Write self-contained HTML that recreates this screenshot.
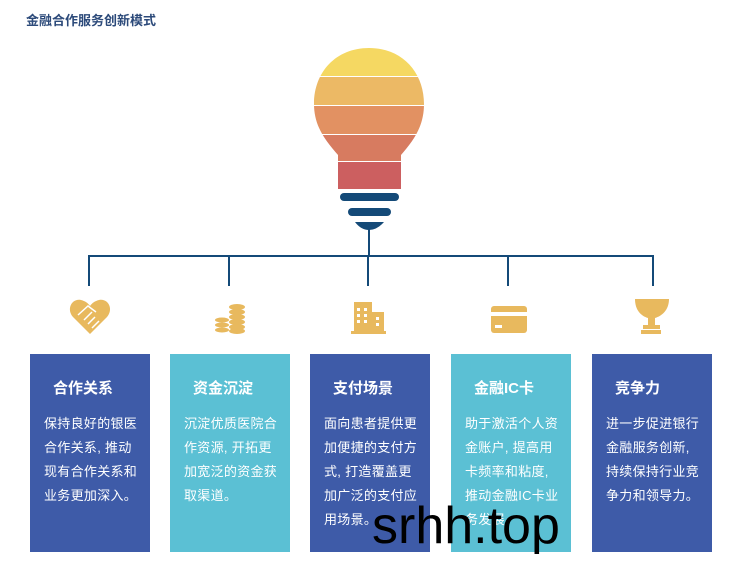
<!DOCTYPE html>
<html><head><meta charset="utf-8"><style>
body{margin:0;width:743px;height:574px;background:#fff;position:relative;overflow:hidden;font-family:"Liberation Sans","Noto Sans CJK SC",sans-serif}
.t{position:absolute;left:26px;top:10px;font-size:13px;font-weight:bold;color:#2c4a7a}
.c{position:absolute;top:354px;width:120px;height:198px;color:#fff}
.c h3{margin:0;position:absolute;left:23px;top:23px;font-size:15px;font-weight:bold}
.c p{margin:0;position:absolute;left:14px;top:58px;width:110px;font-size:13px;letter-spacing:0.3px;line-height:24px;white-space:nowrap}
.b{background:#3e5ba8}.l{background:#5bc0d4}
.w{position:absolute;left:372px;top:496px;font-size:52px;color:#000;font-family:"Liberation Sans",sans-serif}
</style></head><body>
<div class="t">金融合作服务创新模式</div>
<svg width="743" height="574" style="position:absolute;left:0;top:0">
<defs><clipPath id="bulb"><path d="M369 48 C402 48 424 72 424 104 C424 126 414 140 401 155 L401 189 L338 189 L338 155 C325 140 314 126 314 104 C314 72 336 48 369 48Z"/></clipPath></defs>
<g clip-path="url(#bulb)">
<rect x="300" y="40" width="140" height="36" fill="#f5d862"/>
<rect x="300" y="77" width="140" height="28" fill="#ecb965"/>
<rect x="300" y="106" width="140" height="28" fill="#e29162"/>
<rect x="300" y="135" width="140" height="26" fill="#d77b60"/>
<rect x="300" y="162" width="140" height="30" fill="#cc5f60"/>
</g>
<rect x="340" y="193" width="59" height="8" rx="4" fill="#144a78"/>
<rect x="348" y="208" width="43" height="8" rx="4" fill="#144a78"/>
<path d="M355 222 L384 222 Q377 230 369 230 Q361 230 355 222Z" fill="#144a78"/>
<g stroke="#144a78" stroke-width="2" fill="none">
<path d="M369 228 V256 M89 286 V256 H653 V286 M229 256 V286 M368 256 V286 M508 256 V286"/>
</g>
<g fill="#e8b95e">
<path d="M90 334 L73 317 C66 309 72 298 81 300 C85 301 88 303 90 306 C92 303 95 301 99 300 C108 298 114 309 107 317Z"/>
<ellipse cx="222" cy="320" rx="7" ry="2.5"/><ellipse cx="222" cy="325" rx="7" ry="2.5"/><ellipse cx="222" cy="330" rx="7" ry="2.5"/>
<ellipse cx="237" cy="307" rx="8" ry="3"/><ellipse cx="237" cy="312" rx="8" ry="3"/><ellipse cx="237" cy="317" rx="8" ry="3"/><ellipse cx="237" cy="322" rx="8" ry="3"/><ellipse cx="237" cy="327" rx="8" ry="3"/><ellipse cx="237" cy="331" rx="8" ry="3"/>
<rect x="354" y="302" width="18" height="31"/><rect x="372" y="312" width="12" height="21"/><rect x="351" y="331" width="35" height="3"/>
<rect x="491" y="306" width="36" height="27" rx="3"/>
<path d="M635 299 H669 C669 310 662 316 655 318 V325 H660 V329 H643 V325 H648 V318 C641 316 635 310 635 299Z"/><rect x="641" y="330" width="20" height="4"/>
</g>
<g stroke="#fff" stroke-width="1.5" fill="none"><path d="M78 315 L88 306 L96 312 M84 320 L92 312 M88 324 L95 317 M92 328 L99 321"/></g>
<rect x="491" y="312" width="36" height="4" fill="#fff"/><rect x="495" y="325" width="7" height="3" fill="#fff"/>
<g fill="#fff"><rect x="357" y="308" width="3" height="3"/><rect x="364" y="308" width="3" height="3"/><rect x="357" y="314" width="3" height="3"/><rect x="364" y="314" width="3" height="3"/><rect x="357" y="320" width="3" height="3"/><rect x="364" y="320" width="3" height="3"/><rect x="376" y="317" width="3" height="3"/><rect x="376" y="323" width="3" height="3"/></g>
</svg>
<div class="c b" style="left:30px"><h3>合作关系</h3><p>保持良好的银医<br>合作关系, 推动<br>现有合作关系和<br>业务更加深入。</p></div>
<div class="c l" style="left:170px"><h3>资金沉淀</h3><p>沉淀优质医院合<br>作资源, 开拓更<br>加宽泛的资金获<br>取渠道。</p></div>
<div class="c b" style="left:310px"><h3>支付场景</h3><p>面向患者提供更<br>加便捷的支付方<br>式, 打造覆盖更<br>加广泛的支付应<br>用场景。</p></div>
<div class="c l" style="left:451px"><h3>金融IC卡</h3><p>助于激活个人资<br>金账户, 提高用<br>卡频率和粘度,<br>推动金融IC卡业<br>务发展。</p></div>
<div class="c b" style="left:592px"><h3>竞争力</h3><p>进一步促进银行<br>金融服务创新,<br>持续保持行业竞<br>争力和领导力。</p></div>
<div class="w">srhh.top</div>
</body></html>
